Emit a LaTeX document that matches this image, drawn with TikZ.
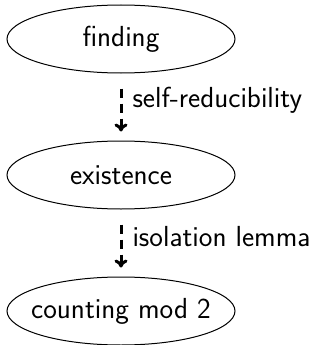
\documentclass[tikz,border=0pt]{standalone}
\usetikzlibrary{shapes.geometric, arrows.meta, positioning}

\begin{document}
\begin{tikzpicture}[
  node distance=67pt,
  every node/.style={font=\sffamily\fontsize{29}{34}\selectfont},
  problem/.style={ellipse, draw, line width=1pt, minimum width=228pt,
    minimum height=68pt, inner xsep=-16pt, inner ysep=0pt},
  reduces/.style={draw, line width=3pt, dash pattern=on 9pt off 6pt,
    -{To[length=8pt, width=13pt]}, shorten <=15pt, shorten >=9pt}
]
\useasboundingbox (0,0) rectangle (323pt,-345pt);

\node[problem] (finding) at (121pt,-39pt) {finding};
\node[problem, below=of finding] (existence) {existence};
\node[problem, below=of existence] (counting) {counting mod 2};

\draw[reduces] (finding) -- node[right, pos=0.4, inner xsep=10pt] {self-reducibility} (existence);
\draw[reduces] (existence) -- node[right, pos=0.4, inner xsep=10pt] {isolation lemma} (counting);

\end{tikzpicture}
\end{document}
